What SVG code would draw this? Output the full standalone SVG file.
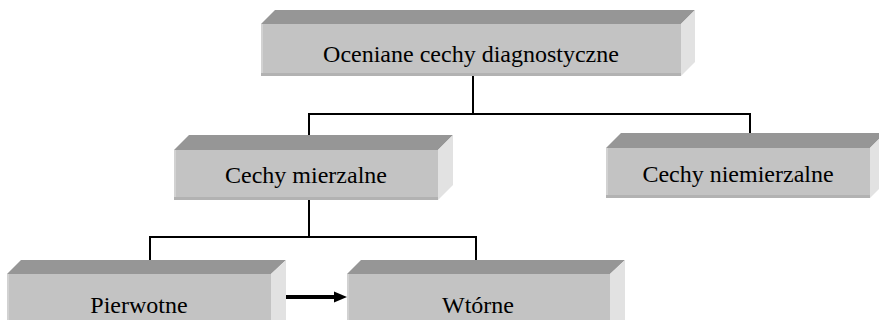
<svg xmlns="http://www.w3.org/2000/svg" width="879" height="320" viewBox="0 0 879 320">
<style>
.front{fill:#c3c3c3}
.top{fill:#969696}
.side{fill:#e2e2e2}
.lstrip{fill:#d2d2d2}
.bstrip{fill:#b2b2b2}
.lbl{font-family:'Liberation Serif','Times New Roman',serif;font-size:24px;fill:#000;text-anchor:middle}
.conn{fill:none;stroke:#000;stroke-width:2}
</style>
<rect width="879" height="320" fill="#fff"/>
<g id="connectors">
<path class="conn" d="M473,76 V114 M309,145 V114 H750 V145"/>
<path class="conn" d="M309,200 V237 M150,272 V237 H476 V272"/>
<line x1="278" y1="297" x2="335" y2="297" stroke="#000" stroke-width="4"/>
<path d="M334,291.5 L347,297 L334,302.5 Z" fill="#000"/>
</g>
<g id="node-root">
<polygon class="top" points="261,24 275,10 695,10 681,24"/>
<polygon class="side" points="681,24 695,10 695,62 681,76"/>
<rect class="front" x="261" y="24" width="420" height="52"/>
<rect class="lstrip" x="261" y="24" width="2" height="52"/>
<rect class="bstrip" x="261" y="73" width="420" height="3"/>
<text class="lbl" x="471" y="62">Oceniane cechy diagnostyczne</text>
</g>
<g id="node-mierzalne">
<polygon class="top" points="174,150 189,135 453,135 438,150"/>
<polygon class="side" points="438,150 453,135 453,185 438,200"/>
<rect class="front" x="174" y="150" width="264" height="50"/>
<rect class="lstrip" x="174" y="150" width="2" height="50"/>
<rect class="bstrip" x="174" y="197" width="264" height="3"/>
<text class="lbl" x="306" y="183">Cechy mierzalne</text>
</g>
<g id="node-niemierzalne">
<polygon class="top" points="606,148 621,133 885,133 870,148"/>
<polygon class="side" points="870,148 885,133 885,183 870,198"/>
<rect class="front" x="606" y="148" width="264" height="50"/>
<rect class="lstrip" x="606" y="148" width="2" height="50"/>
<rect class="bstrip" x="606" y="195" width="264" height="3"/>
<text class="lbl" x="738" y="182">Cechy niemierzalne</text>
</g>
<g id="node-pierwotne">
<polygon class="top" points="7,274 21,260 286,260 271,274"/>
<polygon class="side" points="271,274 286,260 286,320 271,320"/>
<rect class="front" x="7" y="274" width="264" height="50"/>
<rect class="lstrip" x="7" y="274" width="2" height="50"/>
<text class="lbl" x="139" y="313">Pierwotne</text>
</g>
<g id="node-wtorne">
<polygon class="top" points="347,274 361,260 625,260 610,274"/>
<polygon class="side" points="610,274 625,260 625,320 610,320"/>
<rect class="front" x="347" y="274" width="263" height="50"/>
<rect class="lstrip" x="347" y="274" width="2" height="50"/>
<text class="lbl" x="478" y="313">Wtórne</text>
</g>
</svg>
